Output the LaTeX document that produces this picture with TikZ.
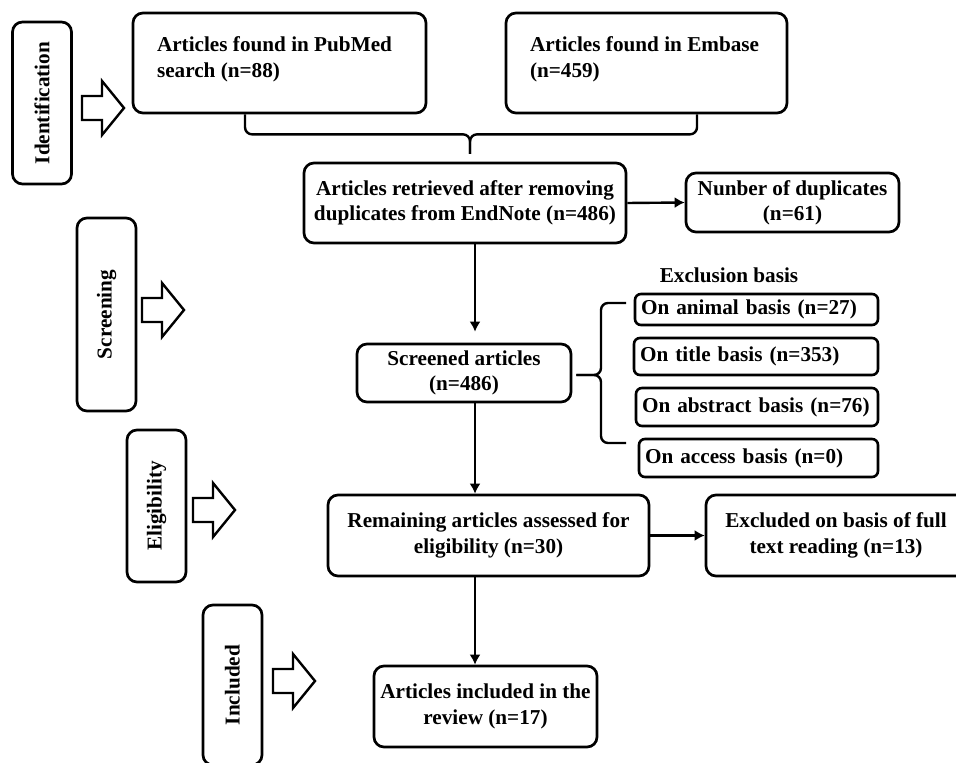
\documentclass[tikz,border=0pt]{standalone}
\usepackage{fontspec}
\setmainfont{Liberation Serif}
\usetikzlibrary{arrows.meta}

\begin{document}
\begin{tikzpicture}[
            x=0.5pt, y=-0.5pt,
            >={Latex[length=5pt, width=5.5pt]},
            every node/.style={font=\fontsize{10.6}{12.7}\selectfont\bfseries},
            box/.style={draw, line width=1.35pt, rounded corners=5pt, align=center, inner sep=2pt},
            topbox/.style={draw, line width=1.35pt, rounded corners=5pt, inner xsep=12pt, inner ysep=12pt},
            smallbox/.style={draw, line width=1.3pt, rounded corners=3pt, align=left, inner xsep=3pt, inner ysep=1pt},
            stage/.style={draw, line width=1.35pt, rounded corners=5pt, rotate=90, minimum height=29.5pt},
            link/.style={->, line width=1.2pt},
            brace/.style={line width=1.2pt, rounded corners=3.5pt},
            blockarrow/.pic={
                \draw[line width=1.2pt, fill=white] (0, -12) -- (20, -12) -- (20, -27) -- (42, 0) -- (20, 27) -- (20, 12) -- (0, 12) -- cycle;
            }
        ]
        \path[use as bounding box] (0, 0) rectangle (956, 763);
        \clip (0, 0) rectangle (956, 763);

        % stages on the left
        \node(identStage)[stage, minimum width=81pt] at (42, 103) {Identification};
        \node(screenStage)[stage, minimum width=96.5pt] at (106.5, 314.5) {Screening};
        \node(eligStage)[stage, minimum width=76pt] at (156.5, 506) {Eligibility};
        \node(inclStage)[stage, minimum width=80pt] at (232.5, 685) {Included};

        \pic at (82, 108) {blockarrow};
        \pic at (142, 310) {blockarrow};
        \pic at (193, 510) {blockarrow};
        \pic at (273, 681) {blockarrow};

        % flow boxes
        \node(pubmedBox)[topbox] at (279.5, 63) {\parbox[c][26pt][t]{122.5pt}{\raggedright Articles found in PubMed\\search (n=88)}};
        \node(embaseBox)[topbox] at (646.5, 63) {\parbox[c][26pt][t]{116.5pt}{\raggedright Articles found in Embase\\(n=459)}};
        \node(retrievedBox)[box, minimum width=161pt, minimum height=40pt] at (465, 203) {Articles retrieved after removing\\duplicates from EndNote (n=486)};
        \node(duplicatesBox)[box, minimum width=106.5pt, minimum height=29.5pt] at (792.5, 202.5) {Nunber of duplicates\\(n=61)};
        \node(screenedBox)[box, minimum width=107pt, minimum height=29pt] at (464, 373) {Screened articles\\(n=486)};
        \node(exclusionLabel) at (729, 275) {Exclusion basis};
        \node(animalBox)[smallbox, minimum height=15.5pt, text width=115.5pt] at (756.5, 309.5) {On animal basis (n=27)};
        \node(titleBox)[smallbox, minimum height=18.5pt, text width=116pt] at (756, 356.5) {On title basis (n=353)};
        \node(abstractBox)[smallbox, minimum height=19pt, text width=115pt] at (757, 407) {On abstract basis (n=76)};
        \node(accessBox)[smallbox, minimum height=19pt, text width=113.5pt] at (758.5, 458) {On access basis (n=0)};
        \node(remainingBox)[box, minimum width=160.5pt, minimum height=40.5pt] at (488.5, 535.5) {Remaining articles assessed for\\eligibility (n=30)};
        \node(fulltextBox)[box, minimum width=130pt, minimum height=40.5pt] at (836, 535.5) {Excluded on basis of full\\text reading (n=13)};
        \node(includedBox)[box, minimum width=111.5pt, minimum height=40.5pt] at (485.5, 706.5) {Articles included in the\\review (n=17)};

        % braces
        \coordinate(mergeTip) at (470, 154);
        \draw[brace] ([xshift=-17.25pt]pubmedBox.south) -- ++(0, 20) -| (mergeTip);
        \draw[brace] ([xshift=25.25pt]embaseBox.south) -- ++(0, 20) -| (mergeTip);
        \coordinate(braceTip) at ([xshift=2pt, yshift=-1pt]screenedBox.east);
        \draw[brace] (braceTip) -| (601, 303) -- (626, 303);
        \draw[brace] (braceTip) -| (601, 443) -- (626, 443);

        % arrows
        \coordinate(spine) at (475, 0);
        \draw[link] (retrievedBox.east) -- (duplicatesBox.west);
        \draw[link, shorten >=5.5pt] (retrievedBox.south -| spine) -- (screenedBox.north -| spine);
        \draw[link] (screenedBox.south -| spine) -- (remainingBox.north -| spine);
        \draw[link] (remainingBox.east) -- (fulltextBox.west);
        \draw[link] (remainingBox.south -| spine) -- (includedBox.north -| spine);
    \end{tikzpicture}
\end{document}
